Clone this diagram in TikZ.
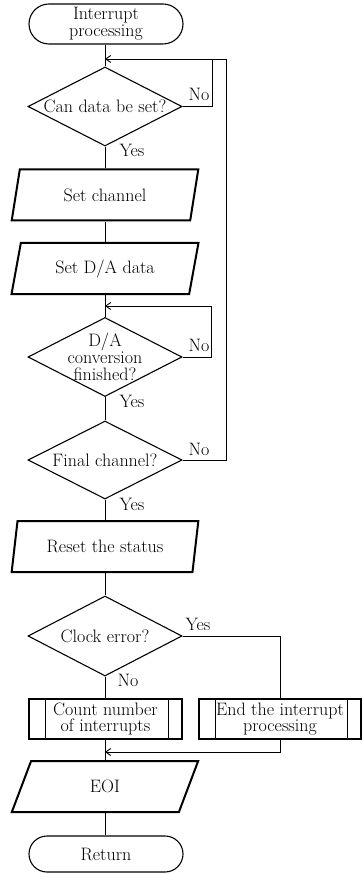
\documentclass[tikz,border=0pt]{standalone}
\usetikzlibrary{shapes.geometric,shapes.misc,arrows.meta}
\begin{document}
\begin{tikzpicture}[x=1pt,y=-1pt,
  every node/.style={font=\fontsize{18}{16.8}\selectfont, align=center, inner sep=0pt},
  conn/.style={line width=0.9pt, draw=black},
  arr/.style={conn, -{Straight Barb[length=5pt,width=7pt]}},
  term/.style={draw, line width=1.1pt, rounded rectangle, minimum width=154pt, minimum height=40pt},
  dia/.style={draw, line width=1.1pt, diamond, minimum width=154pt, minimum height=79pt},
  para/.style={draw, line width=2pt, trapezium, trapezium left angle=73, trapezium right angle=107,
     trapezium stretches=true, minimum width=187pt, minimum height=51pt},
  subp/.style={draw, line width=2pt, rectangle, minimum height=40pt,
     path picture={\draw[line width=0.9pt]
       ([xshift=16pt]path picture bounding box.north west) -- ([xshift=16pt]path picture bounding box.south west)
       ([xshift=-14pt]path picture bounding box.north east) -- ([xshift=-14pt]path picture bounding box.south east);}},
  lab/.style={}
]
\useasboundingbox (0,0) rectangle (362,874);

\node[term] (start) at (106,24) {Interrupt\\processing};
\coordinate (m1) at (105,59);
\coordinate (j1) at (212,59);
\node[dia, label={center:Can data be set?}] (d1) at (105,106.5) {};
\node[para] (p1) at (105,195) {Set channel};
\node[para] (p2) at (105,268.5) {Set D/A data};
\coordinate (m2) at (105,306);
\node[dia, label={[align=center]center:D/A\\conversion\\finished?}] (d2) at (105,357) {};
\node[dia, minimum height=78pt, label={center:Final channel?}] (d3) at (105,460) {};
\node[para] (p3) at (105,546.5) {Reset the status};
\node[dia, minimum height=80pt, label={center:Clock error?}] (d4) at (105,636) {};
\node[subp, minimum width=153pt] (s1) at (105.5,719) {Count number\\of interrupts};
\node[subp, minimum width=162pt] (s2) at (280,719) {End the interrupt\\processing};
\coordinate (m3) at (105,752);
\node[para] (p4) at (105,786.5) {EOI};
\node[term, minimum height=36pt] (ret) at (106,854) {Return};

% main axis
\draw[conn] (start.south -| m1) -- (d1.north);
\draw[conn] (d1.south) -- (p1.north -| d1.south);
\draw[conn] (p1.south -| d1.south) -- (p2.north -| d1.south);
\draw[conn] (p2.south -| d1.south) -- (d2.north);
\draw[conn] (d2.south) -- (d3.north);
\draw[conn] (d3.south) -- (p3.north -| d3.south);
\draw[conn] (p3.south -| d3.south) -- (d4.north);
\draw[conn] (d4.south) -- (s1.north -| d4.south);
\draw[conn] (s1.south -| d4.south) -- (p4.north -| d4.south);
\draw[conn] (p4.south -| d4.south) -- (ret.north -| d4.south);

% loops
\draw[arr] (d3.east) -- ++(44,0) |- (m1);
\draw[conn] (d1.east) -| (j1);
\draw[arr] (d2.east) -- ++(29,0) |- (m2);
\draw[conn] (d4.east) -| (s2.north);
\draw[arr] (s2.south) |- (m3);

% labels
\node[lab] (n1) at (199,94) {No};
\node[lab] (y1) at (132,150) {Yes};
\node[lab] (n2) at (199,345) {No};
\node[lab] (y2) at (132,401) {Yes};
\node[lab] (n3) at (199,449) {No};
\node[lab] (y3) at (132,504) {Yes};
\node[lab] (y4) at (198,624) {Yes};
\node[lab] (n4) at (128,680) {No};
\end{tikzpicture}
\end{document}
